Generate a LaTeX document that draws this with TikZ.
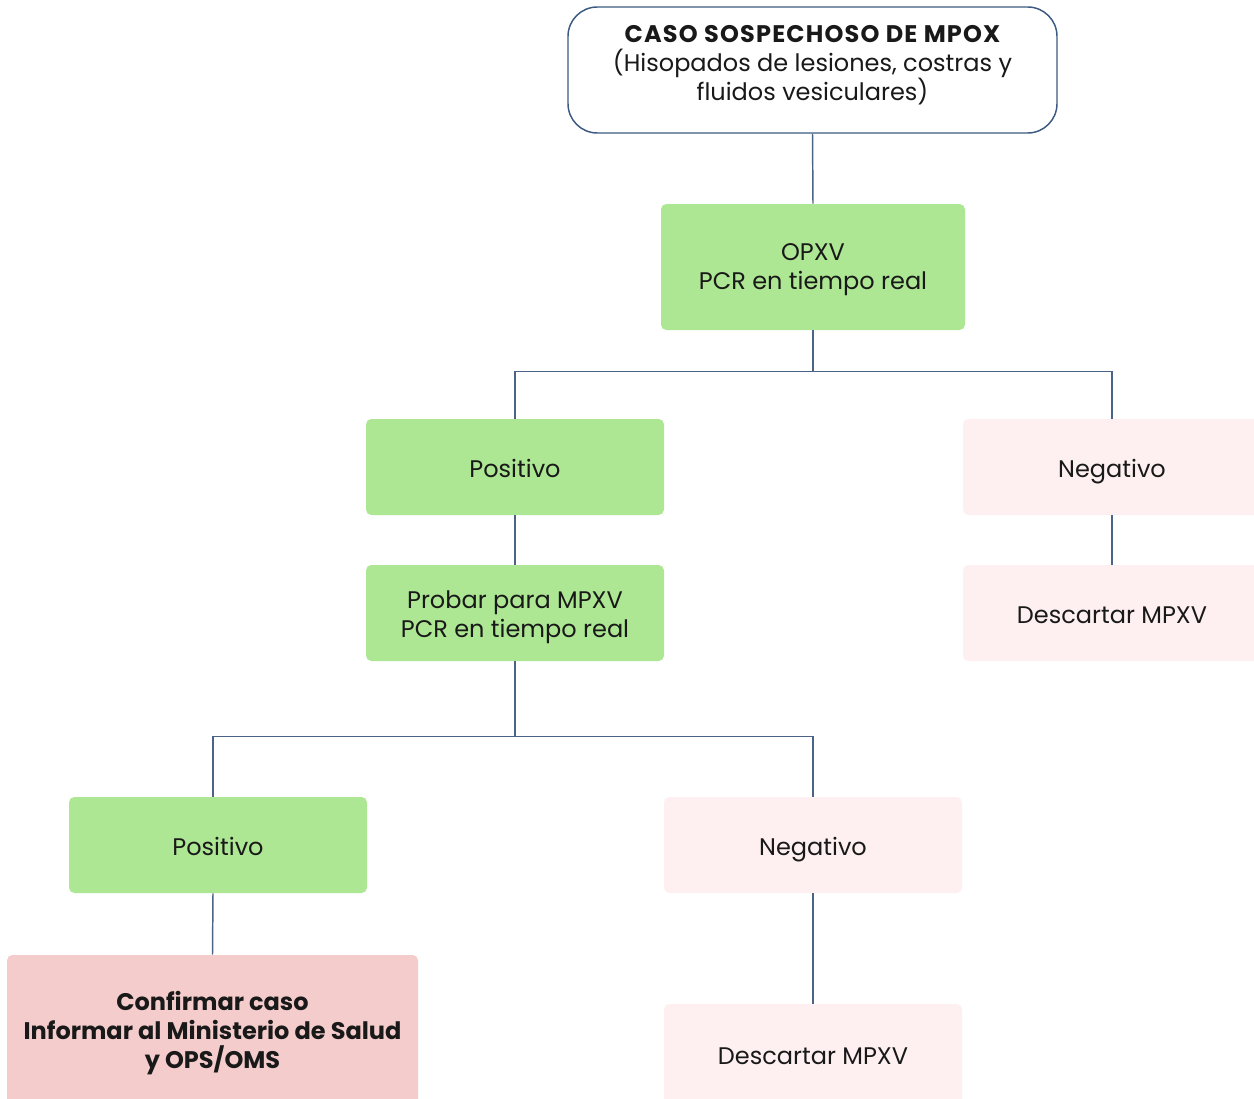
\documentclass[tikz,border=0pt]{standalone}
\usepackage{fontspec}
\setmainfont{Poppins}
\begin{document}
\begin{tikzpicture}[x=0.75pt,y=-0.75pt,
  font=\fontsize{18}{21.75}\selectfont,
  box/.style={rectangle, rounded corners=4pt, inner sep=0pt, align=center,
    text=black!90, minimum width=223.5pt, minimum height=72pt},
  oneline/.style={text height=16pt, text depth=1pt},
  label text/.style={align=center, inner sep=0pt, text=black!90},
  greenbox/.style={box, fill=boxgreen},
  pinkbox/.style={box, fill=boxpink},
  conn/.style={draw=linecol, line width=1.1pt}]
\definecolor{boxgreen}{HTML}{ADE793}
\definecolor{boxpink}{HTML}{FEF0F0}
\definecolor{boxrose}{HTML}{F4CCCC}
\definecolor{linecol}{HTML}{4A6386}
\definecolor{framecol}{HTML}{3D5B82}
\clip (0,0) rectangle (1254,1099);
\fill[white] (0,0) rectangle (1254,1099);

% suspected case
\node[box, draw=framecol, fill=white, line width=1.1pt, rounded corners=22pt,
  minimum width=366.75pt, minimum height=94.5pt] (caso) at (812.5,70) {};
\node[label text] (casotxt) at (812.5,65)
  {{\bfseries\addfontfeature{LetterSpace=5}CASO SOSPECHOSO DE MPOX}\\(Hisopados de lesiones, costras y\\fluidos vesiculares)};

% first PCR test
\node[greenbox, minimum width=228pt, minimum height=94.5pt] (opxv) at (813,267) {};
\node[label text] (opxvtxt) at (813,270) {OPXV\\PCR en tiempo real};

\node[greenbox, oneline] (pos1) at (515,467) {Positivo};
\node[pinkbox, oneline] (neg1) at (1112,467) {Negativo};
\node[greenbox] (probar) at (515,613) {};
\node[label text] (probartxt) at (515,617) {Probar para MPXV\\PCR en tiempo real};
\node[pinkbox, oneline] (desc1) at (1112,613) {Descartar MPXV};

\node[greenbox, oneline] (pos2) at (218,845) {Positivo};
\node[pinkbox, oneline] (neg2) at (813,845) {Negativo};
\node[box, fill=boxrose, minimum width=308.25pt, minimum height=114pt] (conf) at (212.5,1031) {};
\node[label text, font=\fontsize{18}{21.75}\selectfont\bfseries] (conftxt) at (212.5,1033)
  {Confirmar caso\\Informar al Ministerio de Salud\\y OPS/OMS};
\node[pinkbox, oneline, minimum height=75pt] (desc2) at (813,1054) {Descartar MPXV};

% connectors
\draw[conn] (caso.south) -- (opxv.north);
\draw[conn] (opxv.south) -- ++(0,41) coordinate (j1) -| (pos1.north);
\draw[conn] (j1) -| (neg1.north);
\draw[conn] (pos1.south) -- (probar.north);
\draw[conn] (neg1.south) -- (desc1.north);
\draw[conn] (probar.south) -- ++(0,75) coordinate (j2) -| ([xshift=-3.75pt]pos2.north);
\draw[conn] (j2) -| (neg2.north);
\draw[conn] ([xshift=-3.75pt]pos2.south) -- (conf.north);
\draw[conn] (neg2.south) -- (desc2.north);
\end{tikzpicture}
\end{document}
